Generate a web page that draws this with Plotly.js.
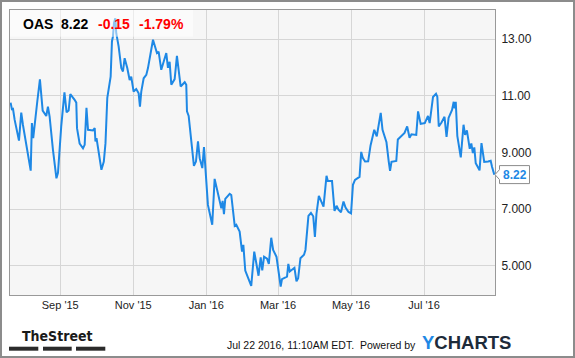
<!DOCTYPE html>
<html>
<head>
<meta charset="utf-8">
<script src="https://cdn.plot.ly/plotly-3.0.1.min.js"></script>
<style>
  html, body { margin: 0; padding: 0; background: #fff; }
  #wrap { position: relative; width: 575px; height: 358px; }
  #chart { position: absolute; left: 0; top: 0; width: 575px; height: 358px; }
  #frame { position: absolute; left: 0; top: 0; width: 571px; height: 354px; border: 2px solid #8c8c8c; pointer-events: none; }
</style>
</head>
<body>
<div id="wrap"><div id="chart"></div><div id="frame"></div></div>
<script>
// ---- data (days since 2015-09-01, closing price of OAS) ----
const ticker = "OAS";
const lastPrice = "8.22";
const change = "-0.15";
const changePct = "-1.79%";
const days = [-41.5,-40.4,-39.5,-38.1,-34.5,-32.6,-31.2,-24.7,-23.7,-22.6,
-19.2,-17.0,-14.7,-11.7,-10.3,-8.9,-6.1,-3.2,-1.9,0.8,
3.5,5.3,7.0,8.4,12.0,13.4,14.0,16.2,19.0,20.4,
21.9,23.2,27.3,28.8,29.4,30.3,34.4,36.4,37.8,39.3,
42.1,43.2,44.0,44.9,46.0,46.8,48.8,51.0,52.4,53.8,
56.0,58.0,59.3,61.3,63.5,65.5,66.6,67.7,69.7,71.9,
73.3,77.5,80.8,82.2,84.4,85.8,88.6,90.0,91.4,92.8,
95.6,97.5,100.6,104.0,105.3,105.9,107.3,111.7,113.4,115.1,
116.5,118.7,120.1,123.4,127.0,129.0,133.2,134.6,135.7,136.8,
137.9,141.6,142.9,145.8,147.1,149.9,151.9,153.0,154.6,159.6,
162.1,165.7,167.5,168.8,170.3,172.8,174.3,176.3,177.9,180.7,
184.2,185.3,189.5,190.6,191.8,195.7,197.4,198.8,200.7,203.7,
204.9,207.4,209.5,211.4,212.8,214.1,216.1,220.0,222.5,223.6,
227.1,229.2,230.9,232.5,234.6,236.7,238.4,240.9,243.0,244.6,
246.3,250.1,251.5,252.8,254.7,257.3,259.3,262.4,264.5,267.8,
269.3,272.6,274.5,275.6,276.8,280.8,282.1,284.3,287.7,289.9,
291.9,293.5,297.5,299.0,301.2,304.6,307.3,308.7,311.5,314.0,
315.1,316.3,318.6,321.1,322.8,324.5,327.4,328.8,329.6,330.5,
331.8,334.7,337.0,338.3,339.8,342.2,343.5,344.8,346.0,347.2,
350.4,352.0,354.3,357.6,359.7,360.8,362.7];
const prices = [10.76,10.53,10.54,10.15,9.42,10.41,9.98,8.36,10.04,9.51,
10.80,11.58,10.48,10.29,10.62,10.27,9.09,8.09,8.28,9.92,
11.12,10.42,10.48,11.06,10.86,10.76,9.86,9.31,9.15,9.27,
10.58,9.80,9.78,9.86,9.39,9.51,8.39,8.68,9.33,10.93,
11.68,12.92,13.09,13.57,13.74,13.21,12.74,11.98,11.86,12.33,
11.98,11.56,11.68,11.15,11.24,11.09,10.62,11.15,11.62,11.74,
11.98,12.98,12.51,12.56,11.92,12.09,12.51,11.99,12.20,11.39,
11.59,12.41,11.33,11.48,11.39,10.45,10.29,8.53,8.68,9.39,
8.80,8.45,9.19,7.15,6.45,8.07,7.33,7.03,7.29,6.82,
7.36,7.54,7.50,6.41,6.45,6.21,5.50,5.74,4.83,4.29,
5.50,4.65,5.30,4.84,5.32,5.25,5.07,5.99,5.56,5.32,
4.27,4.53,4.62,5.07,4.80,4.93,4.45,4.56,5.27,5.39,
5.56,6.76,6.87,6.75,6.02,6.83,7.47,7.09,8.18,7.99,
7.99,6.94,7.12,6.98,6.89,7.27,7.06,6.90,6.85,7.86,
8.03,8.14,9.02,8.81,8.68,8.69,9.25,9.80,9.57,10.40,
9.80,9.36,8.68,8.35,8.67,8.70,9.46,9.55,9.69,9.92,
9.52,9.64,9.62,10.45,10.01,10.04,10.29,10.04,10.96,11.07,
10.97,9.92,10.06,10.26,9.55,10.22,10.50,10.79,10.56,10.79,
9.59,8.83,9.98,9.62,9.78,9.13,9.32,8.98,9.18,8.62,
8.37,9.33,8.67,8.68,8.71,8.50,8.22];
const xTickDates = ["2015-09-01","2015-11-01","2016-01-01","2016-03-01","2016-05-01","2016-07-01"];
const yTickVals = [5, 7, 9, 11, 13];
const yTickText = ["5.000", "7.000", "9.000", "11.00", "13.00"];
const footerStamp = "Jul 22 2016, 11:10AM EDT.  Powered by";

// ---- layout geometry ----
const W = 575, H = 358;
const M = {l: 10, r: 80, t: 10, b: 63};
const PW = W - M.l - M.r, PH = H - M.t - M.b;
const xRangeDays = [-42.0, 363.3];
const yRange = [3.97, 14.03];
const base = Date.UTC(2015, 8, 1);
const toDate = d => new Date(base + d * 864e5).toISOString().replace('T', ' ').replace('Z', '');
const xs = days.map(toDate);
const px = x => (x - M.l) / PW;           // pixel -> paper x
const py = y => 1 - (y - M.t) / PH;       // pixel -> paper y

const blue = '#1e88e5';
const lastVal = prices[prices.length - 1];
const lastPaperY = (lastVal - yRange[0]) / (yRange[1] - yRange[0]);
const lastPixY = M.t + PH * (1 - lastPaperY);

const boxPath = (() => {
  const tip = [495, lastPixY];
  const l = 499.5, r = 529.5, t = lastPixY - 9, b = lastPixY + 9;
  const pts = [[l, t], [r, t], [r, b], [l, b], [l, lastPixY + 5], tip, [l, lastPixY - 5]];
  return 'M ' + pts.map(p => px(p[0]).toFixed(5) + ',' + py(p[1]).toFixed(5)).join(' L ') + ' Z';
})();

const trace = {
  x: xs, y: prices, type: 'scatter', mode: 'lines',
  line: {color: blue, width: 2}, hoverinfo: 'skip'
};

const titleFont = {family: 'Liberation Sans, Arial, sans-serif', size: 14, color: '#000'};
const redFont = Object.assign({}, titleFont, {color: '#ff0000'});

const layout = {
  width: W, height: H,
  margin: M,
  paper_bgcolor: '#ffffff',
  plot_bgcolor: '#f6f6f6',
  showlegend: false,
  font: {family: 'Liberation Sans, Arial, sans-serif', color: '#222'},
  xaxis: {
    type: 'date',
    range: [toDate(xRangeDays[0]), toDate(xRangeDays[1])],
    tickvals: xTickDates, tickformat: "%b '%y",
    showgrid: true, gridcolor: '#d6d6d6', gridwidth: 1,
    showline: true, linecolor: '#999', linewidth: 1, mirror: true,
    ticks: '', zeroline: false,
    tickfont: {size: 11, color: '#222'}
  },
  yaxis: {
    side: 'right',
    range: yRange,
    tickvals: yTickVals, ticktext: yTickText,
    showgrid: true, gridcolor: '#d6d6d6', gridwidth: 1,
    showline: true, linecolor: '#999', linewidth: 1, mirror: true,
    ticks: '', zeroline: false,
    tickfont: {size: 12, color: '#222'},
    ticklabelstandoff: 3
  },
  shapes: [
    {type: 'rect', xref: 'paper', yref: 'paper', x0: 0, x1: px(193), y0: py(36.7), y1: 1,
     fillcolor: 'rgba(255,255,255,0.5)', line: {width: 0}, layer: 'above'},
    {type: 'path', xref: 'paper', yref: 'paper', path: boxPath,
     fillcolor: '#ffffff', line: {color: '#8c8c8c', width: 1}, layer: 'above'},
    {type: 'rect', xref: 'paper', yref: 'paper', x0: px(9), x1: px(38.3), y0: py(350.7), y1: py(346.7),
     fillcolor: '#2b2b2b', line: {width: 0}},
    {type: 'rect', xref: 'paper', yref: 'paper', x0: px(43), x1: px(71.7), y0: py(350.7), y1: py(346.7),
     fillcolor: '#2b2b2b', line: {width: 0}},
    {type: 'rect', xref: 'paper', yref: 'paper', x0: px(76), x1: px(105.3), y0: py(350.7), y1: py(346.7),
     fillcolor: '#2b2b2b', line: {width: 0}}
  ],
  annotations: [
    {xref: 'paper', yref: 'paper', x: px(20.5), y: py(23.5), xanchor: 'left', yanchor: 'middle',
     text: '<b>' + ticker + '</b>', showarrow: false, font: titleFont},
    {xref: 'paper', yref: 'paper', x: px(58.8), y: py(23.5), xanchor: 'left', yanchor: 'middle',
     text: '<b>' + lastPrice + '</b>', showarrow: false, font: titleFont},
    {xref: 'paper', yref: 'paper', x: px(95.5), y: py(23.5), xanchor: 'left', yanchor: 'middle',
     text: '<b>' + change + '</b>', showarrow: false, font: redFont},
    {xref: 'paper', yref: 'paper', x: px(136.5), y: py(23.5), xanchor: 'left', yanchor: 'middle',
     text: '<b>' + changePct + '</b>', showarrow: false, font: redFont},
    {xref: 'paper', yref: 'paper', x: px(514.5), y: lastPaperY, xanchor: 'center', yanchor: 'middle',
     text: '<b>' + lastVal.toFixed(2) + '</b>', showarrow: false,
     font: {family: 'Liberation Sans, Arial, sans-serif', size: 12, color: blue}},
    {xref: 'paper', yref: 'paper', x: px(57.2), y: py(335.5), xanchor: 'center', yanchor: 'middle',
     text: '<b>TheStreet</b>', showarrow: false,
     font: {family: 'Liberation Sans Narrow, DejaVu Sans Condensed, Arial Narrow, sans-serif', size: 14, color: '#1a1a1a'}},
    {xref: 'paper', yref: 'paper', x: px(418), y: py(345), xanchor: 'right', yanchor: 'middle',
     text: footerStamp, showarrow: false,
     font: {family: 'Liberation Sans, Arial, sans-serif', size: 10.5, color: '#111'}},
    {xref: 'paper', yref: 'paper', x: px(420), y: py(342), xanchor: 'left', yanchor: 'middle',
     text: '<b><span style="color:' + blue + '">Y</span>CHARTS</b>', showarrow: false,
     font: {family: 'Liberation Sans, Arial, sans-serif', size: 18.5, color: '#1d2b3a'}}
  ]
};

Plotly.newPlot('chart', [trace], layout, {staticPlot: true, displayModeBar: false});
</script>
</body>
</html>
